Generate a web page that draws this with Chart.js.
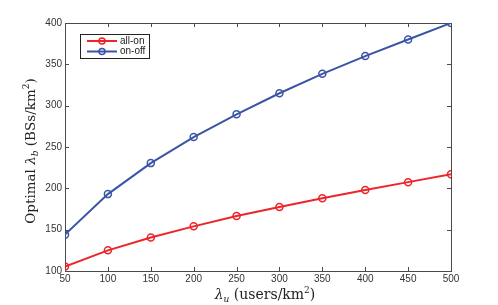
<!DOCTYPE html>
<html>
<head>
<meta charset="utf-8">
<script src="https://cdn.jsdelivr.net/npm/chart.js@4/dist/chart.umd.min.js"></script>
<style>
  html, body { margin: 0; padding: 0; background: #fff; }
  #wrap { width: 498px; height: 305px; }
</style>
</head>
<body>
<div id="wrap"><canvas id="chart" width="498" height="305"></canvas></div>
<script>
// ─── Data ───
var userDensity = [50, 100, 150, 200, 250, 300, 350, 400, 450, 500];
var allOn = [105.5, 125, 140.5, 154, 166.5, 177.5, 188, 198, 207.5, 217];
var onOff = [144, 193, 230.5, 262, 289.5, 315, 338.5, 360, 380, 400];
var xTicks = [50, 100, 150, 200, 250, 300, 350, 400, 450, 500];
var yTicks = [100, 150, 200, 250, 300, 350, 400];

var colors = {
	red: '#EE2429',
	blue: '#3A55A6',
	axis: '#4a4a4a',
	text: '#333333'
};

function toPoints(ys) {
	return userDensity.map(function (x, i) { return { x: x, y: ys[i] }; });
}

// draws the box, inward ticks, axis titles and legend
var matlabFrame = {
	id: 'matlabFrame',
	beforeDatasetsDraw: function (chart) {
		var ctx = chart.ctx;
		var a = chart.chartArea;
		var xs = chart.scales.x, ys = chart.scales.y;
		var len = 4;
		ctx.save();
		ctx.strokeStyle = colors.axis;
		ctx.lineWidth = 1;
		ctx.beginPath();
		xTicks.forEach(function (v) {
			var px = Math.round(xs.getPixelForValue(v)) + 0.5;
			ctx.moveTo(px, a.bottom); ctx.lineTo(px, a.bottom - len);
			ctx.moveTo(px, a.top); ctx.lineTo(px, a.top + len);
		});
		yTicks.forEach(function (v) {
			var py = Math.round(ys.getPixelForValue(v)) + 0.5;
			ctx.moveTo(a.left, py); ctx.lineTo(a.left + len, py);
			ctx.moveTo(a.right, py); ctx.lineTo(a.right - len, py);
		});
		ctx.stroke();
		ctx.strokeRect(Math.round(a.left) + 0.5, Math.round(a.top) + 0.5,
			Math.round(a.right - a.left), Math.round(a.bottom - a.top));
		ctx.restore();
	},
	afterDraw: function (chart) {
		var ctx = chart.ctx;
		var serif = "'DejaVu Serif', 'Liberation Serif', serif";
		ctx.save();
		ctx.fillStyle = '#222';
		ctx.textBaseline = 'alphabetic';

		// x title: λu (users/km²)
		drawRich(ctx, [
			{ t: 'λ', f: 'italic 14px ' + serif },
			{ t: 'u', f: 'italic 9px ' + serif, dy: 3 },
			{ t: ' (users/km', f: '14px ' + serif },
			{ t: '2', f: '9px ' + serif, dy: -6 },
			{ t: ')', f: '14px ' + serif }
		], 265, 299);

		// y title: Optimal λb (BSs/km²)
		ctx.save();
		ctx.translate(35, 151);
		ctx.rotate(-Math.PI / 2);
		drawRich(ctx, [
			{ t: 'Optimal ', f: '13.5px ' + serif },
			{ t: 'λ', f: 'italic 13.5px ' + serif },
			{ t: 'b', f: 'italic 9px ' + serif, dy: 3 },
			{ t: ' (BSs/km', f: '13.5px ' + serif },
			{ t: '2', f: '9px ' + serif, dy: -6 },
			{ t: ')', f: '13.5px ' + serif }
		], 0, 0);
		ctx.restore();

		// legend box
		var lx = 80, ly = 34, lw = 69, lh = 24;
		ctx.fillStyle = '#fff';
		ctx.fillRect(lx, ly, lw, lh);
		ctx.strokeStyle = '#222';
		ctx.lineWidth = 1;
		ctx.strokeRect(lx + 0.5, ly + 0.5, lw, lh);
		chart.data.datasets.forEach(function (ds, i) {
			var cy = 41 + i * 10.5;
			ctx.strokeStyle = ds.borderColor;
			ctx.lineWidth = 2;
			ctx.beginPath();
			ctx.moveTo(87, cy); ctx.lineTo(117, cy);
			ctx.stroke();
			ctx.lineWidth = 1.5;
			ctx.beginPath();
			ctx.arc(102, cy, 3, 0, Math.PI * 2);
			ctx.stroke();
			ctx.fillStyle = '#222';
			ctx.font = "10px 'Liberation Sans', Arial, sans-serif";
			ctx.textBaseline = 'middle';
			ctx.textAlign = 'left';
			ctx.fillText(ds.label, 120, cy);
		});
		ctx.restore();
	}
};

function drawRich(ctx, parts, cx, baseY) {
	var total = 0;
	parts.forEach(function (p) { ctx.font = p.f; total += ctx.measureText(p.t).width; });
	var x = cx - total / 2;
	ctx.textAlign = 'left';
	parts.forEach(function (p) {
		ctx.font = p.f;
		ctx.fillText(p.t, x, baseY + (p.dy || 0));
		x += ctx.measureText(p.t).width;
	});
}

var ctx = document.getElementById('chart').getContext('2d');

new Chart(ctx, {
	type: 'line',
	data: {
		datasets: [{
			label: 'all-on',
			data: toPoints(allOn),
			borderColor: colors.red,
			backgroundColor: 'transparent',
			borderWidth: 2,
			pointRadius: 3.5,
			pointBorderWidth: 1.5,
			pointBackgroundColor: 'transparent',
			pointBorderColor: colors.red,
			tension: 0
		}, {
			label: 'on-off',
			data: toPoints(onOff),
			borderColor: colors.blue,
			backgroundColor: 'transparent',
			borderWidth: 2,
			pointRadius: 3.5,
			pointBorderWidth: 1.5,
			pointBackgroundColor: 'transparent',
			pointBorderColor: colors.blue,
			tension: 0
		}]
	},
	options: {
		responsive: false,
		animation: false,
		layout: { padding: { top: 23, right: 47, left: 0, bottom: 0 } },
		plugins: {
			legend: { display: false },
			tooltip: { enabled: false }
		},
		scales: {
			x: {
				type: 'linear',
				min: 50,
				max: 500,
				afterFit: function (s) { s.height = 34; },
				afterBuildTicks: function (s) { s.ticks = xTicks.map(function (v) { return { value: v }; }); },
				grid: { display: false, drawTicks: false },
				border: { display: false },
				ticks: {
					color: colors.text,
					padding: 2,
					maxRotation: 0,
					font: { family: "'Liberation Sans', Arial, sans-serif", size: 10 }
				}
			},
			y: {
				min: 100,
				max: 400,
				afterFit: function (s) { s.width = 65; },
				afterBuildTicks: function (s) { s.ticks = yTicks.map(function (v) { return { value: v }; }); },
				grid: { display: false, drawTicks: false },
				border: { display: false },
				ticks: {
					color: colors.text,
					padding: 3,
					font: { family: "'Liberation Sans', Arial, sans-serif", size: 10 }
				}
			}
		}
	},
	plugins: [matlabFrame]
});
</script>
</body>
</html>
